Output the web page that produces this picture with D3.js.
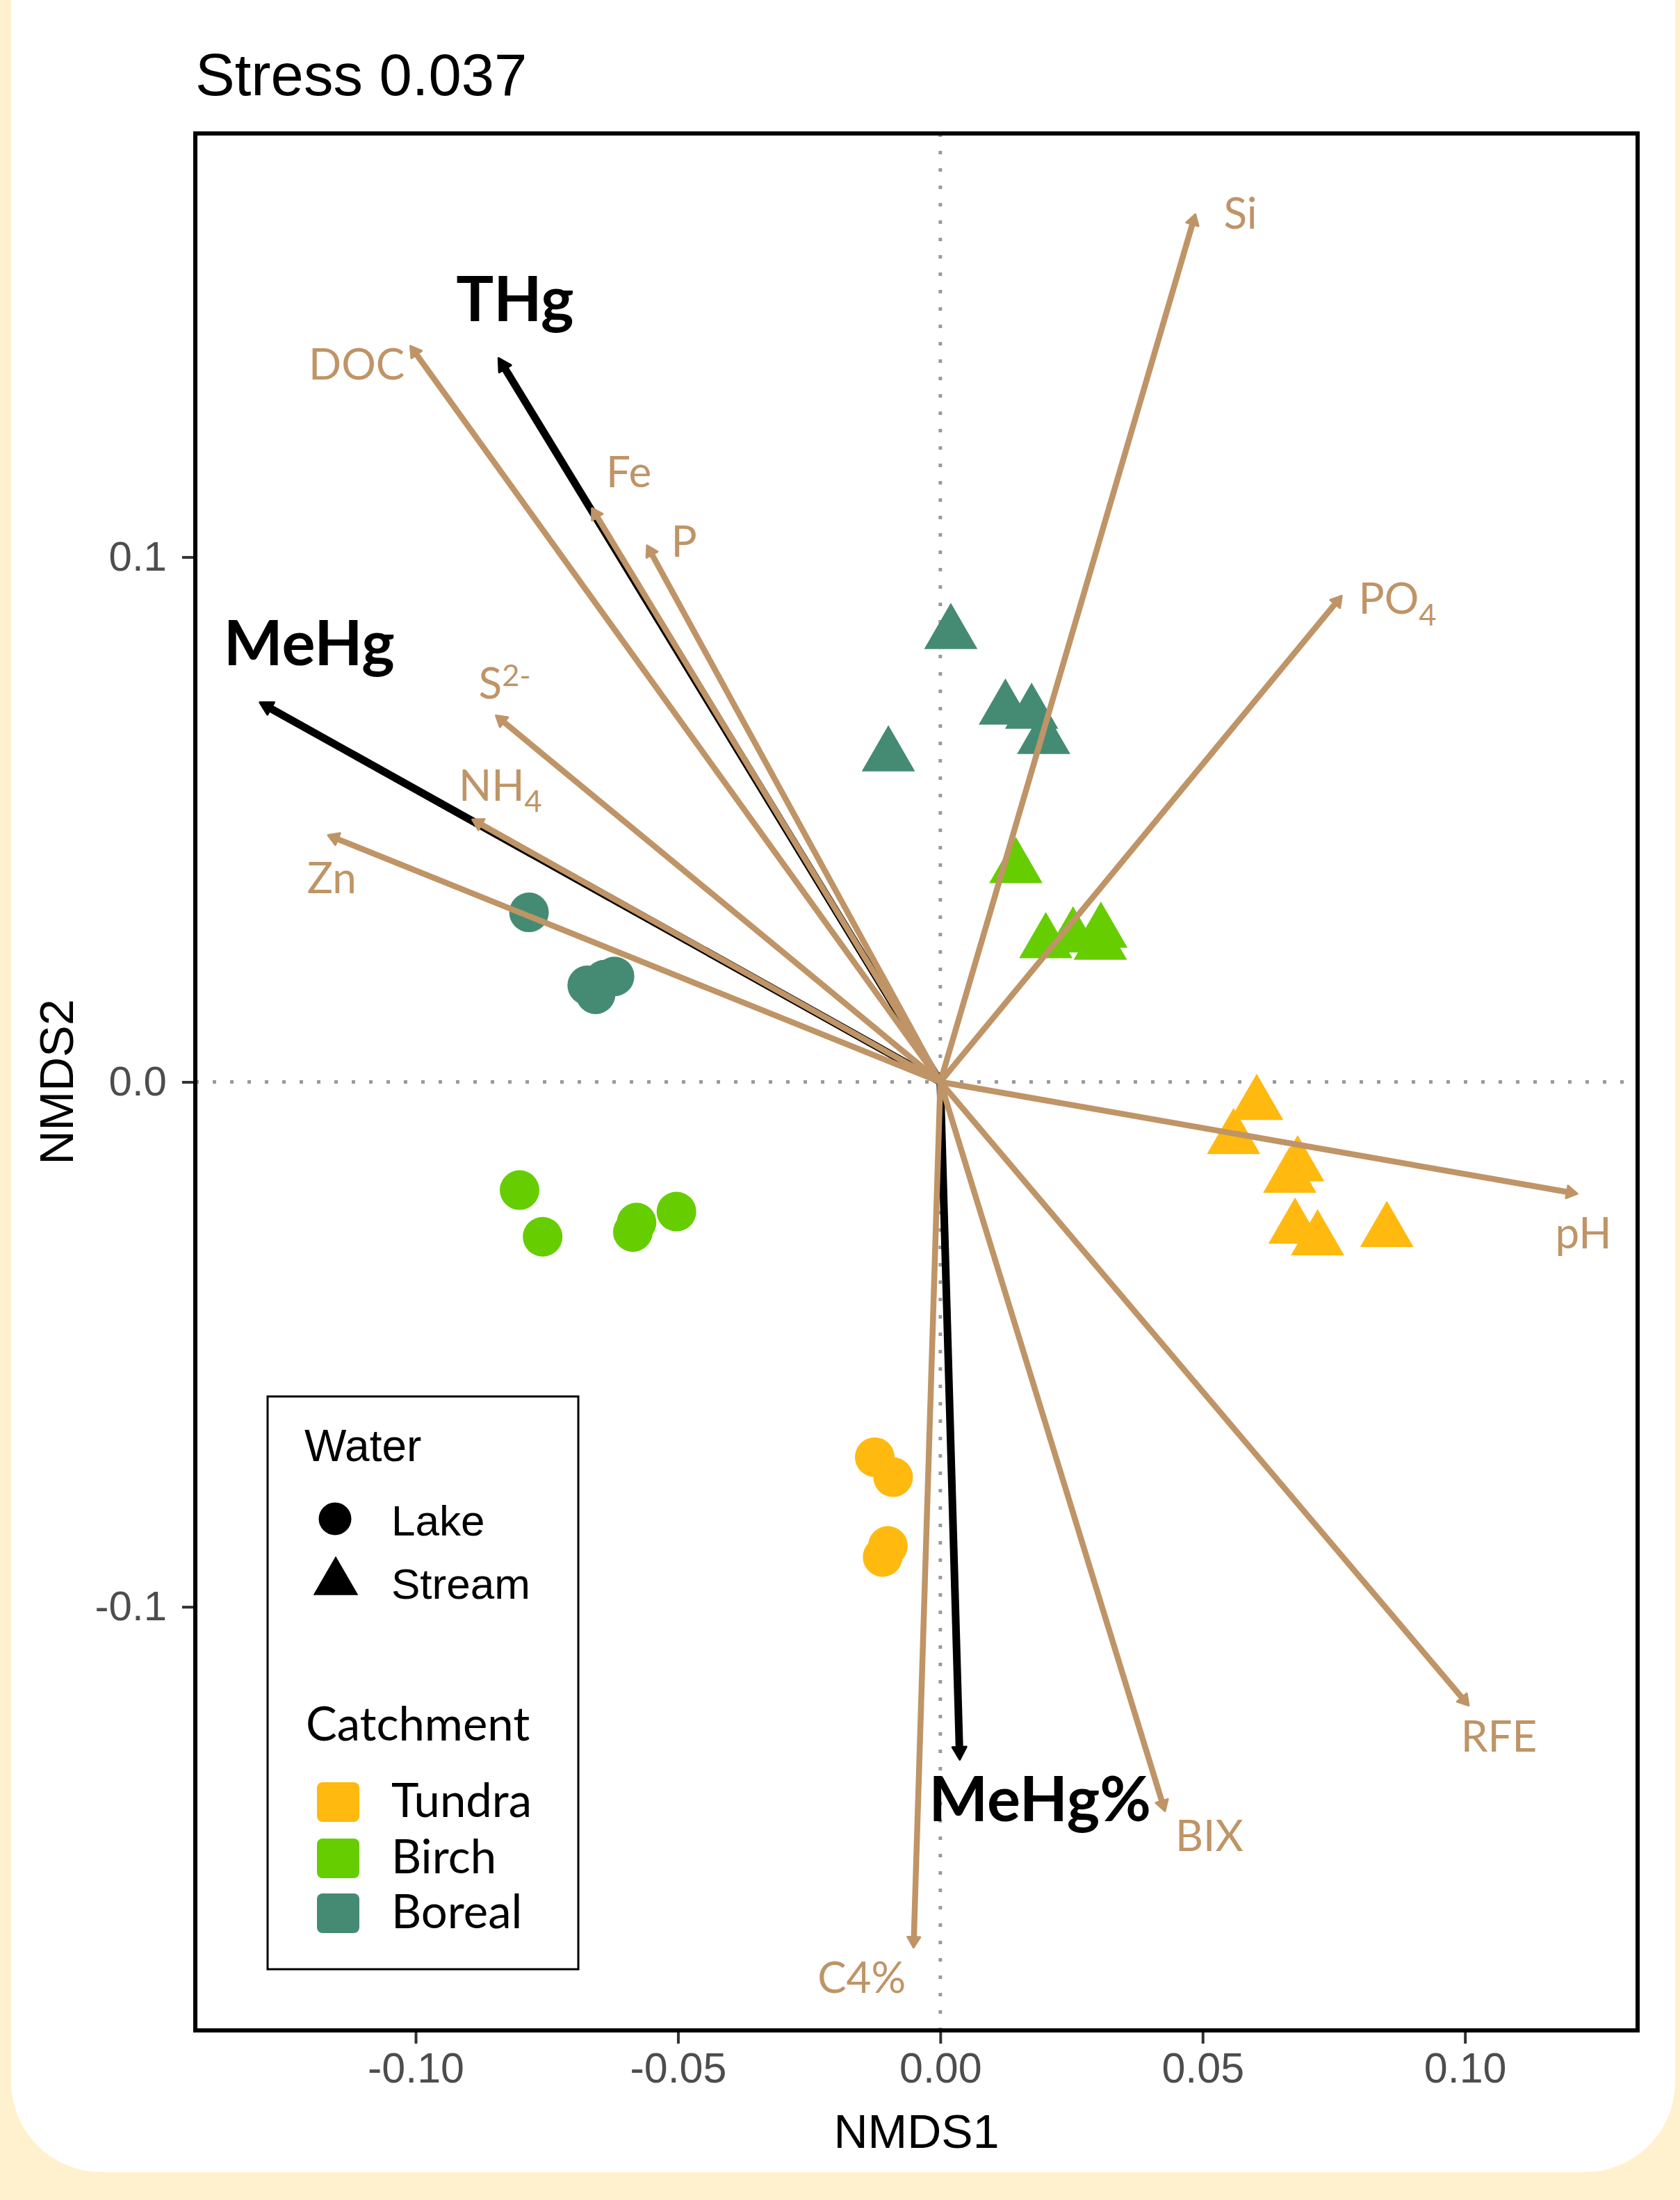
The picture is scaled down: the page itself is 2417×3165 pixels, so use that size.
<!DOCTYPE html>
<html><head><meta charset="utf-8">
<script src="https://cdn.jsdelivr.net/npm/d3@7"></script>
<style>html,body{margin:0;padding:0;background:#FFF1CD;} svg{display:block}</style>
</head><body>
<svg id="c" width="2417" height="3165"></svg>
<script>
// ---------------- data ----------------
const stressText = "Stress 0.037";
const xTitle = "NMDS1";
const yTitle = "NMDS2";
const xTicks = [-0.10, -0.05, 0.00, 0.05, 0.10];
const xTickLabels = ["-0.10", "-0.05", "0.00", "0.05", "0.10"];
const yTicks = [0.1, 0.0, -0.1];
const yTickLabels = ["0.1", "0.0", "-0.1"];
const xDomain = [-0.1420, 0.1329];
const yDomain = [-0.1807, 0.1807];

const waterTypes = ["Lake", "Stream"];
const catchments = ["Tundra", "Birch", "Boreal"];

// site scores
const siteCatchment = [
  "Boreal","Boreal","Boreal","Boreal","Boreal",
  "Birch","Birch","Birch","Birch","Birch",
  "Tundra","Tundra","Tundra","Tundra",
  "Boreal","Boreal","Boreal","Boreal","Boreal",
  "Birch","Birch","Birch","Birch","Birch",
  "Tundra","Tundra","Tundra","Tundra","Tundra","Tundra","Tundra"
];
const siteWater = [
  "Lake","Lake","Lake","Lake","Lake",
  "Lake","Lake","Lake","Lake","Lake",
  "Lake","Lake","Lake","Lake",
  "Stream","Stream","Stream","Stream","Stream",
  "Stream","Stream","Stream","Stream","Stream",
  "Stream","Stream","Stream","Stream","Stream","Stream","Stream"
];
const siteNMDS1 = [
  -0.0784, -0.0673, -0.0657, -0.0621, -0.0640,
  -0.0802, -0.0758, -0.0579, -0.0586, -0.0503,
  -0.0125, -0.0090, -0.0100, -0.0110,
   0.0020, -0.0099,  0.0124,  0.0174,  0.0197,
   0.0144,  0.0201,  0.0253,  0.0306,  0.0305,
   0.0603,  0.0559,  0.0681,  0.0666,  0.0676,  0.0719,  0.0851
];
const siteNMDS2 = [
   0.0323,  0.0184,  0.0167,  0.0201,  0.0195,
  -0.0206, -0.0295, -0.0268, -0.0286, -0.0247,
  -0.0715, -0.0753, -0.0884, -0.0905,
   0.0854,  0.0621,  0.0710,  0.0702,  0.0654,
   0.0408,  0.0265,  0.0276,  0.0285,  0.0262,
  -0.0043, -0.0108, -0.0160, -0.0182, -0.0279, -0.0301, -0.0285
];

// fitted vectors
const envNames  = ["Si", "PO_{4}", "pH", "RFE", "BIX", "C4%", "DOC", "Fe", "P", "S^{2-}", "NH_{4}", "Zn"];
const envX      = [0.0486, 0.0765, 0.1214, 0.1007, 0.0428, -0.0051, -0.1010, -0.0664, -0.0559, -0.0847, -0.0892, -0.1167];
const envY      = [0.1653, 0.0926, -0.0213, -0.1188, -0.1389, -0.1649, 0.1402, 0.1093, 0.1022, 0.0698, 0.0500, 0.0470];
const envLabelX = [0.0540, 0.0797, 0.1172, 0.0992, 0.0448, -0.0234, -0.1204, -0.0637, -0.0513, -0.0880, -0.0918, -0.1207];
const envLabelY = [0.1625, 0.0892, -0.0317, -0.1276, -0.1465, -0.1736, 0.1338, 0.1133, 0.1000, 0.0730, 0.0536, 0.0359];

const hgNames  = ["THg", "MeHg", "MeHg%"];
const hgX      = [-0.0842, -0.1297, 0.0037];
const hgY      = [0.1379, 0.0723, -0.1291];
const hgLabelX = [-0.0923, -0.1366, -0.0022];
const hgLabelY = [0.1450, 0.0794, -0.1408];

// ---------------- styles ----------------
const catColor = d3.scaleOrdinal().domain(catchments).range(["#FFB90F", "#66CD00", "#458B74"]);
const BROWN = "#BF9466";
const ARIAL = "'Liberation Sans', Arial, sans-serif";
const CAL = "Lato, 'Open Sans', sans-serif";

const svg = d3.select("#c");
const W = 2417, H = 3165;

// background
svg.append("rect").attr("x", 0).attr("y", 0).attr("width", W).attr("height", H).attr("fill", "#FFF1CD");
svg.append("rect").attr("x", 16).attr("y", -140).attr("width", 2394).attr("height", 3265)
  .attr("rx", 130).attr("fill", "#FFFFFF");

const x = d3.scaleLinear().domain(xDomain).range([281, 2356]);
const y = d3.scaleLinear().domain(yDomain).range([2921, 192]);

const plot = svg.append("g");

// zero lines
plot.append("line").attr("x1", x(0)).attr("x2", x(0)).attr("y1", y.range()[1]).attr("y2", y.range()[0])
  .attr("stroke", "#9A9A9A").attr("stroke-width", 5).attr("stroke-dasharray", "5,20");
plot.append("line").attr("x1", x.range()[0]).attr("x2", x.range()[1]).attr("y1", y(0)).attr("y2", y(0))
  .attr("stroke", "#9A9A9A").attr("stroke-width", 5).attr("stroke-dasharray", "5,20");

// points
const R = 28.5;
const triPath = r => `M0,${-1.555 * r}L${1.347 * r},${0.778 * r}L${-1.347 * r},${0.778 * r}Z`;
const sites = siteNMDS1.map((v, i) => ({x: v, y: siteNMDS2[i], c: siteCatchment[i], w: siteWater[i]}));
plot.selectAll(".pt").data(sites).enter().each(function(d) {
  const g = d3.select(this);
  if (d.w === "Lake") {
    g.append("circle").attr("cx", x(d.x)).attr("cy", y(d.y)).attr("r", R).attr("fill", catColor(d.c));
  } else {
    g.append("path").attr("d", triPath(R)).attr("transform", `translate(${x(d.x)},${y(d.y)})`).attr("fill", catColor(d.c));
  }
});

// arrows
function drawArrow(tx, ty, color, width, headL, headW) {
  const x0 = x(0), y0 = y(0), x1 = x(tx), y1 = y(ty);
  const ang = Math.atan2(y1 - y0, x1 - x0);
  const bx = x1 - headL * Math.cos(ang), by = y1 - headL * Math.sin(ang);
  plot.append("line").attr("x1", x0).attr("y1", y0).attr("x2", bx + 3 * Math.cos(ang)).attr("y2", by + 3 * Math.sin(ang))
    .attr("stroke", color).attr("stroke-width", width).attr("stroke-linecap", "butt");
  const px = -Math.sin(ang), py = Math.cos(ang);
  plot.append("path")
    .attr("d", `M${x1},${y1}L${bx + headW * px},${by + headW * py}L${bx - headW * px},${by - headW * py}Z`)
    .attr("fill", color).attr("stroke", color).attr("stroke-width", 3).attr("stroke-linejoin", "round");
}
hgX.forEach((v, i) => drawArrow(v, hgY[i], "#000", 11, 18, 10));
envX.forEach((v, i) => drawArrow(v, envY[i], BROWN, 8.5, 15, 9));

// labels with sub/superscripts
function richText(g, str, px, py, size, color, weight, family) {
  const t = g.append("text").attr("x", px).attr("y", py).attr("font-size", size)
    .attr("fill", color).attr("font-weight", weight).attr("font-family", family);
  const re = /([^_^]+)|([_^])\{([^}]*)\}/g;
  let m, pendingShift = 0;
  while ((m = re.exec(str)) !== null) {
    if (m[1]) {
      const ts = t.append("tspan").text(m[1]);
      if (pendingShift) { ts.attr("dy", -pendingShift); pendingShift = 0; }
    } else {
      const sub = m[2] === "_";
      const shift = sub ? 0.27 * size : -0.30 * size;
      t.append("tspan").attr("font-size", size * 0.7).attr("dy", shift).text(m[3]);
      pendingShift = shift;
    }
  }
  return t;
}
envNames.forEach((n, i) => richText(plot, n, x(envLabelX[i]), y(envLabelY[i]), 62, BROWN, 400, CAL));
hgNames.forEach((n, i) => richText(plot, n, x(hgLabelX[i]), y(hgLabelY[i]), 90, "#000", 700, CAL));

// panel border
plot.append("rect").attr("x", x.range()[0]).attr("y", y.range()[1])
  .attr("width", x.range()[1] - x.range()[0]).attr("height", y.range()[0] - y.range()[1])
  .attr("fill", "none").attr("stroke", "#000").attr("stroke-width", 6);

// axes
const xAxis = d3.axisBottom(x).tickValues(xTicks).tickFormat((d, i) => xTickLabels[i]).tickSize(16).tickPadding(13);
const gx = svg.append("g").attr("transform", `translate(0,${y.range()[0] + 3})`).call(xAxis);
gx.select(".domain").remove();
gx.selectAll(".tick line").attr("stroke", "#333").attr("stroke-width", 4);
gx.selectAll(".tick text").attr("font-family", ARIAL).attr("font-size", 61).attr("fill", "#4D4D4D");

const yAxis = d3.axisLeft(y).tickValues(yTicks).tickFormat((d, i) => yTickLabels[i]).tickSize(16).tickPadding(22);
const gy = svg.append("g").attr("transform", `translate(${x.range()[0] - 3},0)`).call(yAxis);
gy.select(".domain").remove();
gy.selectAll(".tick line").attr("stroke", "#333").attr("stroke-width", 4);
gy.selectAll(".tick text").attr("font-family", ARIAL).attr("font-size", 60).attr("fill", "#4D4D4D");

// titles
svg.append("text").attr("x", (x.range()[0] + x.range()[1]) / 2).attr("y", 3090).attr("text-anchor", "middle")
  .attr("font-family", ARIAL).attr("font-size", 68).attr("fill", "#000").text(xTitle);
svg.append("text").attr("transform", `translate(105,${(y.range()[0] + y.range()[1]) / 2}) rotate(-90)`)
  .attr("text-anchor", "middle").attr("font-family", ARIAL).attr("font-size", 68).attr("fill", "#000").text(yTitle);
svg.append("text").attr("x", 281).attr("y", 137).attr("font-family", ARIAL).attr("font-size", 85)
  .attr("fill", "#000").text(stressText);

// legend
const lg = svg.append("g");
lg.append("rect").attr("x", 385).attr("y", 2009).attr("width", 447).attr("height", 824)
  .attr("fill", "#fff").attr("stroke", "#000").attr("stroke-width", 3);
lg.append("text").attr("x", 438).attr("y", 2102).attr("font-family", ARIAL).attr("font-size", 64).text("Water");
const waterRows = [2185, 2276];
waterTypes.forEach((w, i) => {
  if (w === "Lake") lg.append("circle").attr("cx", 482).attr("cy", waterRows[i]).attr("r", 23.5).attr("fill", "#000");
  else lg.append("path").attr("d", triPath(24)).attr("transform", `translate(483,${waterRows[i]})`).attr("fill", "#000");
  lg.append("text").attr("x", 563).attr("y", waterRows[i] + 24).attr("font-family", ARIAL).attr("font-size", 62).text(w);
});
lg.append("text").attr("x", 440).attr("y", 2504).attr("font-family", CAL).attr("font-size", 67).text("Catchment");
const catRows = [2564, 2645, 2724];
catchments.forEach((c, i) => {
  lg.append("rect").attr("x", 456).attr("y", catRows[i]).attr("width", 61).attr("height", 57).attr("rx", 8)
    .attr("fill", catColor(c));
  lg.append("text").attr("x", 563).attr("y", catRows[i] + 50).attr("font-family", CAL).attr("font-size", 67).text(c);
});
</script>
</body></html>
